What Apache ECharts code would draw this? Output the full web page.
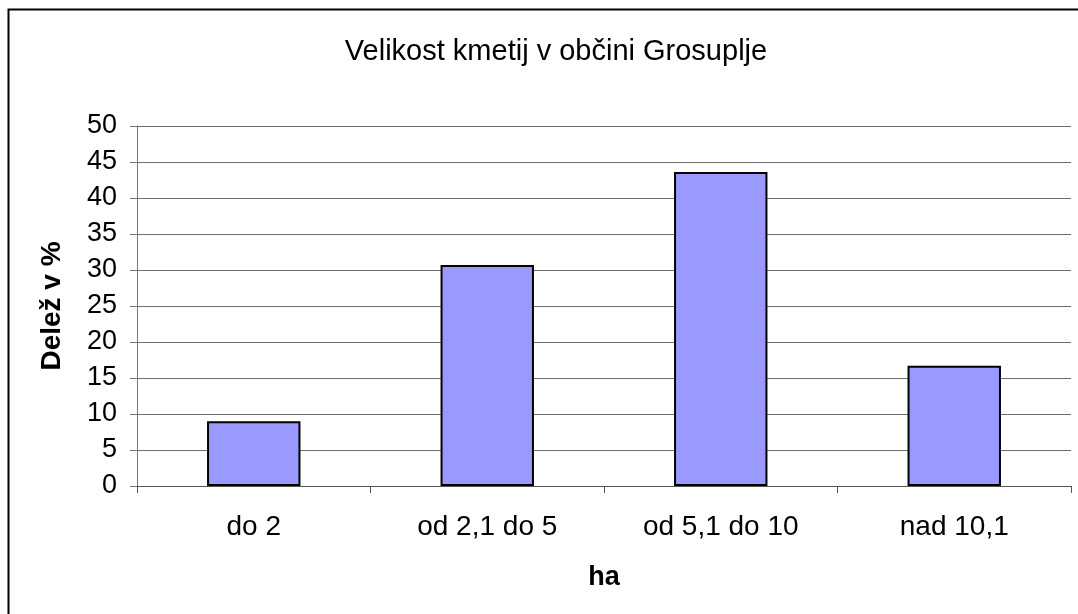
<!DOCTYPE html>
<html>
<head>
<meta charset="utf-8">
<script src="https://cdn.jsdelivr.net/npm/echarts@6/dist/echarts.min.js"></script>
<style>
  html, body { margin: 0; padding: 0; background: #fff; }
  #chart { width: 1078px; height: 614px; }
</style>
</head>
<body>
<div id="chart"></div>
<script>
// data
let categories = ['do 2', 'od 2,1 do 5', 'od 5,1 do 10', 'nad 10,1'];
let shares = [9.0, 30.7, 43.6, 16.7];
let yTicks = [0, 5, 10, 15, 20, 25, 30, 35, 40, 45, 50];

let font = 'Liberation Sans, Arial, sans-serif';
let chart = echarts.init(document.getElementById('chart'));

let options = {
    backgroundColor: '#fff',
    animation: false,
    title: {
        text: 'Velikost kmetij v občini Grosuplje',
        left: 551,
        textAlign: 'center',
        top: 32,
        textStyle: { fontFamily: font, fontSize: 29, fontWeight: 'normal', color: '#000' }
    },
    graphic: [
        {
            type: 'rect',
            shape: { x: 8.5, y: 9.5, width: 1200, height: 700 },
            style: { fill: 'none', stroke: '#000', lineWidth: 2 },
            silent: true
        }
    ],
    grid: { left: 137, right: 7, top: 126, bottom: 128 },
    xAxis: {
        type: 'category',
        data: categories,
        name: 'ha',
        nameLocation: 'middle',
        nameGap: 78,
        nameTextStyle: { fontFamily: font, fontSize: 27, fontWeight: 'bold', color: '#000', verticalAlign: 'top' },
        axisLine: { lineStyle: { color: '#555', width: 1 } },
        axisTick: { show: true, alignWithLabel: false, length: 7, lineStyle: { color: '#555' } },
        axisLabel: { fontFamily: font, fontSize: 28, color: '#000', margin: 27 },
        splitLine: { show: false }
    },
    yAxis: {
        type: 'value',
        min: yTicks[0],
        max: yTicks[yTicks.length - 1],
        interval: 5,
        name: 'Delež v %',
        nameLocation: 'middle',
        nameGap: 71,
        nameTextStyle: { fontFamily: font, fontSize: 28, fontWeight: 'bold', color: '#000' },
        axisLine: { show: true, lineStyle: { color: '#777', width: 1 } },
        axisTick: { show: true, length: 7, lineStyle: { color: '#777' } },
        axisLabel: { fontFamily: font, fontSize: 27, color: '#000', margin: 20 },
        splitLine: { show: true, lineStyle: { color: '#6e6e6e', width: 1 } }
    },
    series: [
        {
            type: 'bar',
            data: shares,
            barWidth: '40%',
            itemStyle: { color: '#9999ff', borderColor: '#000', borderWidth: 2 }
        }
    ]
};

chart.setOption(options);
</script>
</body>
</html>
